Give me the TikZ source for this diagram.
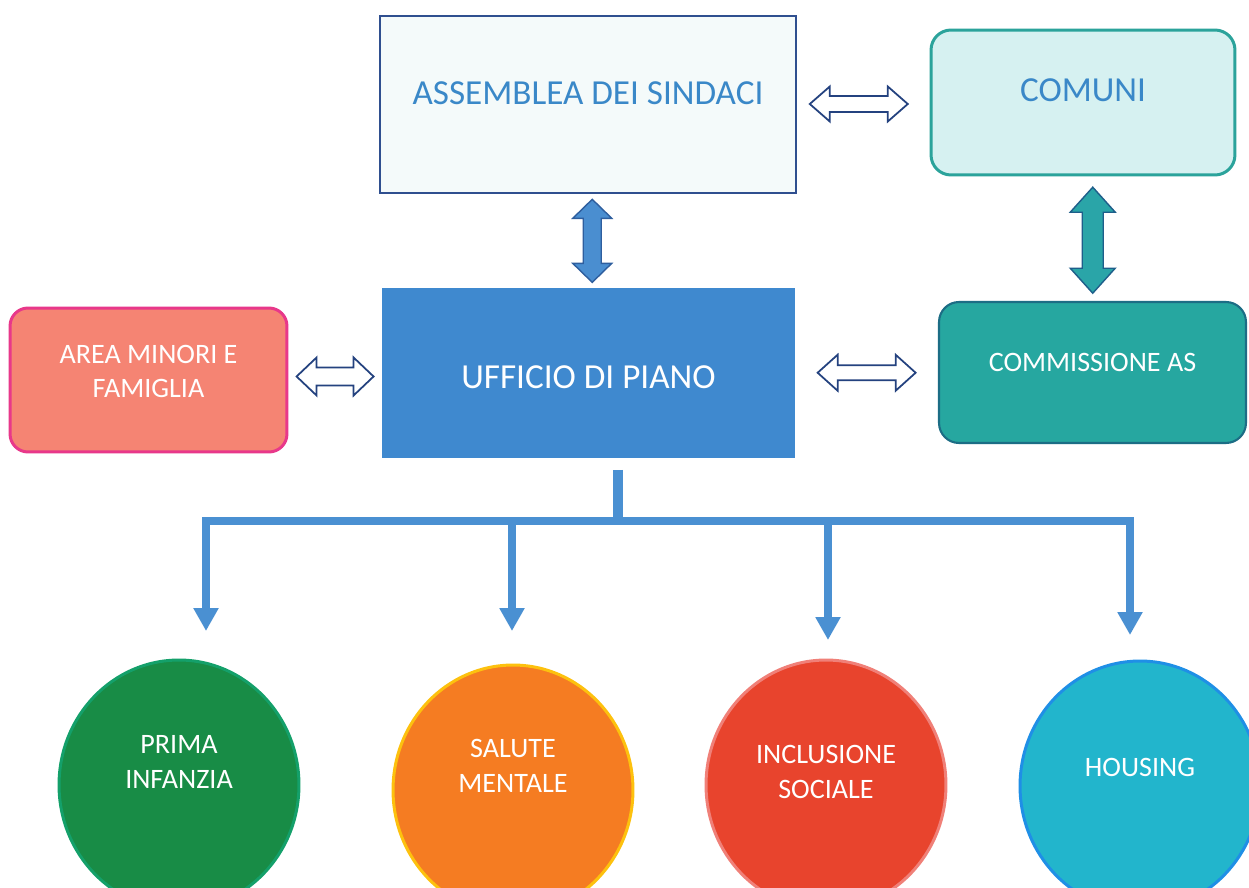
\documentclass[tikz,border=0pt]{standalone}
\usepackage{fontspec}
\setmainfont{Carlito}
\usetikzlibrary{shapes.geometric,arrows.meta,calc}
\definecolor{assfill}{HTML}{F4FAFA}
\definecolor{assdraw}{HTML}{2F4F8F}
\definecolor{bluetext}{HTML}{3A88C8}
\definecolor{comfill}{HTML}{D6F1F1}
\definecolor{comdraw}{HTML}{2BA39B}
\definecolor{areafill}{HTML}{F58473}
\definecolor{areadraw}{HTML}{E8388A}
\definecolor{uffill}{HTML}{3F89CF}
\definecolor{commfill}{HTML}{26A7A0}
\definecolor{commdraw}{HTML}{1C6D85}
\definecolor{primafill}{HTML}{188C46}
\definecolor{primadraw}{HTML}{14A06A}
\definecolor{salfill}{HTML}{F57C22}
\definecolor{saldraw}{HTML}{FDC10E}
\definecolor{incfill}{HTML}{E8442D}
\definecolor{incdraw}{HTML}{F08078}
\definecolor{houfill}{HTML}{22B5CC}
\definecolor{houdraw}{HTML}{1F8FE6}
\definecolor{treeblue}{HTML}{4A90D2}
\definecolor{hollowdraw}{HTML}{24427F}
\definecolor{va1fill}{HTML}{4A8ED0}
\definecolor{va1draw}{HTML}{2E5E9E}
\definecolor{va2fill}{HTML}{2AA5A8}
\definecolor{va2draw}{HTML}{1E5E8A}
\tikzset{
  box/.style={rectangle, inner sep=0pt},
  bigtext/.style={font=\fontsize{20}{24}\selectfont},
  smalltext/.style={font=\fontsize{16}{19.5}\selectfont, align=center, text=white},
  circ/.style={ellipse, inner sep=0pt, minimum width=4.8cm, minimum height=5cm, line width=1.7pt},
  hollow/.style={draw=hollowdraw, fill=white, line width=1pt, line join=miter},
  treeline/.style={draw=treeblue, line width=4.5pt, line join=miter},
  treetip/.style={-{Triangle[length=13pt,width=13.5pt]}},
  pics/dbl/.style args={#1/#2/#3/#4}{code={
    \path[pic actions] (-#1,0) -- (-#1+#4,#2) -- (-#1+#4,#3) -- (#1-#4,#3) -- (#1-#4,#2)
      -- (#1,0) -- (#1-#4,-#2) -- (#1-#4,-#3) -- (-#1+#4,-#3) -- (-#1+#4,-#2) -- cycle;
  }}
}
\begin{document}
\begin{tikzpicture}[x=0.02cm,y=-0.02cm]
\clip (0,0) rectangle (1249,888);
\fill[white] (0,0) rectangle (1249,888);

% boxes
\node[box, draw=assdraw, fill=assfill, line width=1.2pt, minimum width=8.32cm, minimum height=3.54cm,
  label={[bigtext, text=bluetext, yshift=0.23cm]center:ASSEMBLEA DEI SINDACI}] (ass) at (588,104.5) {};
\node[box, draw=comdraw, fill=comfill, line width=1.7pt, rounded corners=0.4cm, minimum width=6.08cm, minimum height=2.9cm,
  label={[bigtext, text=bluetext, yshift=0.25cm]center:COMUNI}] (com) at (1083,102.5) {};
\node[box, draw=areadraw, fill=areafill, line width=1.7pt, rounded corners=0.36cm, minimum width=5.54cm, minimum height=2.88cm,
  label={[smalltext, yshift=0.17cm]center:AREA MINORI E\\FAMIGLIA}] (area) at (148.5,380) {};
\node[box, fill=uffill, minimum width=8.26cm, minimum height=3.4cm,
  label={[bigtext, text=white, yshift=-0.08cm]center:UFFICIO DI PIANO}] (uff) at (588.5,373) {};
\node[box, draw=commdraw, fill=commfill, line width=1.2pt, rounded corners=0.4cm, minimum width=6.14cm, minimum height=2.82cm,
  label={[smalltext, yshift=0.21cm]center:COMMISSIONE AS}] (comm) at (1092.5,372.5) {};

% double arrows
\pic[hollow] at ($(ass.east)!0.5!(com.west)+(-4.5,0.5)$) {dbl={49/17.5/8/20}};
\pic[hollow] at ($(area.east)!0.5!(uff.west)$) {dbl={38.5/19/9/20}};
\pic[hollow] at ($(uff.east)!0.5!(comm.west)$) {dbl={49/18/7.5/20}};
\pic[draw=va1draw, fill=va1fill, line width=0.8pt, rotate=90] at ($(ass.south)!0.5!(uff.north)+(4,0)$) {dbl={41.5/19.5/9/19}};
\pic[draw=va2draw, fill=va2fill, line width=0.8pt, rotate=90] at ($(com.south)!0.5!(comm.north)+(5,1.5)$) {dbl={53/22.5/10.5/25}};

% tree
\coordinate (stemtop) at (618,470);
\coordinate (junc) at (618,521);
\coordinate (e1) at (206,631);
\coordinate (e2) at (512,631);
\coordinate (e3) at (828,640);
\coordinate (e4) at (1130,635);
\draw[draw=treeblue, line width=6.2pt] (stemtop) -- (junc);
\draw[treeline, treetip] (junc) -- (junc -| e1) -- (e1);
\draw[treeline, treetip] (junc) -- (junc -| e4) -- (e4);
\draw[treeline, treetip] (junc -| e2) -- (e2);
\draw[treeline, treetip] (junc -| e3) -- (e3);

% circles
\node[circ, draw=primadraw, fill=primafill] (c1) at (179,785) {};
\node[smalltext] (t1) at ($(c1.center)+(0,-23)$) {PRIMA\\INFANZIA};
\node[circ, draw=saldraw, fill=salfill] (c2) at (513,790) {};
\node[smalltext] (t2) at ($(c2.center)+(0,-24)$) {SALUTE\\MENTALE};
\node[circ, draw=incdraw, fill=incfill] (c3) at (826,785) {};
\node[smalltext] (t3) at ($(c3.center)+(0,-13)$) {INCLUSIONE\\SOCIALE};
\node[circ, draw=houdraw, fill=houfill] (c4) at (1140,786) {};
\node[smalltext] (t4) at ($(c4.center)+(0,-19)$) {HOUSING};
\end{tikzpicture}
\end{document}
